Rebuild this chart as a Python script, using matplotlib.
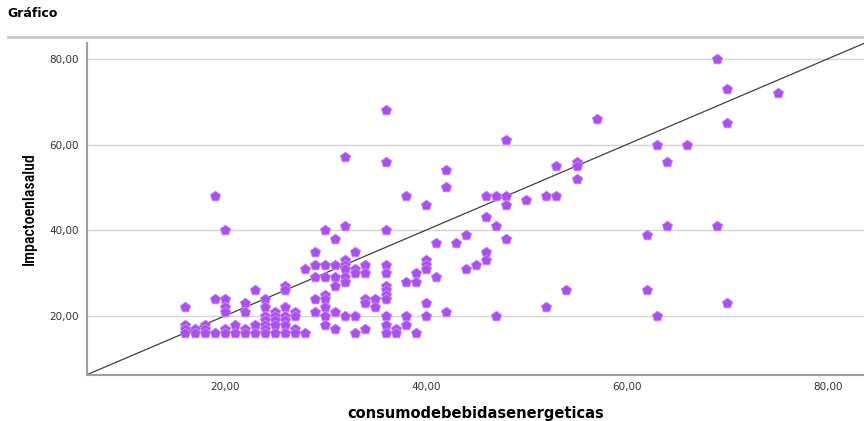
import numpy as np
import matplotlib.pyplot as plt
from matplotlib.ticker import FuncFormatter

# consumo de bebidas energeticas (x) vs impacto en la salud (y)
consumo = [
    16, 16, 16, 16,
    17, 17,
    18, 18, 18,
    19, 19, 19,
    20, 20, 20, 20, 20, 20,
    21, 21,
    22, 22, 22, 22,
    23, 23, 23,
    24, 24, 24, 24, 24, 24, 24,
    25, 25, 25, 25, 25,
    26, 26, 26, 26, 26, 26, 26,
    27, 27, 27, 27,
    28, 28,
    29, 29, 29, 29, 29,
    30, 30, 30, 30, 30, 30, 30, 30,
    31, 31, 31, 31, 31, 31,
    32, 32, 32, 32, 32, 32, 32, 32,
    33, 33, 33, 33, 33,
    34, 34, 34, 34, 34,
    35, 35,
    36, 36, 36, 36, 36, 36, 36, 36, 36, 36, 36, 36,
    37, 37,
    38, 38, 38, 38,
    39, 39, 39,
    40, 40, 40, 40, 40, 40,
    41, 41,
    42, 42, 42,
    43,
    44, 44,
    45,
    46, 46, 46, 46,
    47, 47, 47,
    48, 48, 48, 48,
    50,
    52, 52,
    53, 53,
    54,
    55, 55, 55,
    57,
    62, 62,
    63, 63,
    64, 64,
    66,
    69, 69,
    70, 70, 70,
    75,
]
impacto = [
    22, 18, 17, 16,
    17, 16,
    18, 17, 16,
    48, 24, 16,
    40, 24, 22, 21, 17, 16,
    18, 16,
    23, 21, 17, 16,
    26, 18, 16,
    24, 22, 20, 19, 18, 17, 16,
    21, 20, 19, 18, 16,
    27, 26, 22, 20, 19, 18, 16,
    21, 20, 17, 16,
    31, 16,
    35, 32, 29, 24, 21,
    40, 32, 29, 25, 24, 22, 20, 18,
    38, 32, 29, 27, 21, 17,
    57, 41, 33, 32, 31, 29, 28, 20,
    35, 31, 30, 20, 16,
    32, 30, 24, 23, 17,
    24, 22,
    68, 56, 40, 32, 30, 27, 26, 25, 24, 20, 18, 16,
    17, 16,
    48, 28, 20, 18,
    30, 28, 16,
    46, 33, 32, 31, 23, 20,
    37, 29,
    54, 50, 21,
    37,
    39, 31,
    32,
    48, 43, 35, 33,
    48, 41, 20,
    61, 48, 46, 38,
    47,
    48, 22,
    55, 48,
    26,
    56, 55, 52,
    66,
    39, 26,
    60, 20,
    56, 41,
    60,
    80, 41,
    73, 65, 23,
    72,
]

y_ticks = [20, 40, 60, 80]
x_ticks = [20, 40, 60, 80]

fig = plt.figure(figsize=(8.64, 4.21), dpi=100)
ax = fig.add_axes([0.1007, 0.109, 0.8993, 0.789])

# title and separator line (SPSS style)
fig.text(0.009, 0.968, "Gráfico", fontsize=9, fontweight="bold", va="center", ha="left")
fig.add_artist(plt.Line2D([0.009, 1.0], [0.912, 0.912], color="#c8c8c8", linewidth=2,
                          transform=fig.transFigure))

ax.set_xlim(6.3, 83.6)
ax.set_ylim(6.2, 83.7)

ax.yaxis.grid(True, color="#d4d4d4", linewidth=1)
ax.set_axisbelow(True)

ax.axline((10, 10), slope=1, color="#404040", linewidth=0.9, zorder=2)

ax.scatter(consumo, impacto, marker="p", s=60, color="#aa4ff2",
           edgecolors="#c88af7", linewidths=0.6, zorder=3)

ax.set_xticks(x_ticks)
ax.set_yticks(y_ticks)
fmt = FuncFormatter(lambda v, p: f"{v:.2f}".replace(".", ","))
ax.xaxis.set_major_formatter(fmt)
ax.yaxis.set_major_formatter(fmt)
ax.tick_params(axis="both", length=0, labelsize=7.5, labelcolor="#333333")
ax.tick_params(axis="y", pad=6)
ax.tick_params(axis="x", pad=5)

for side in ["top", "right"]:
    ax.spines[side].set_visible(False)
for side in ["left", "bottom"]:
    ax.spines[side].set_color("#a0a0a0")
    ax.spines[side].set_linewidth(1.5)

ax.set_xlabel("consumodebebidasenergeticas", fontsize=10.5, fontweight="bold", labelpad=10)
ax.set_ylabel("Impactoenlasalud", fontsize=11.5, labelpad=9,
              family=["Liberation Sans Narrow", "Roboto Condensed", "Liberation Sans"],
              fontstretch="condensed", fontweight="medium")

plt.savefig("out.png", dpi=100)
plt.close()
